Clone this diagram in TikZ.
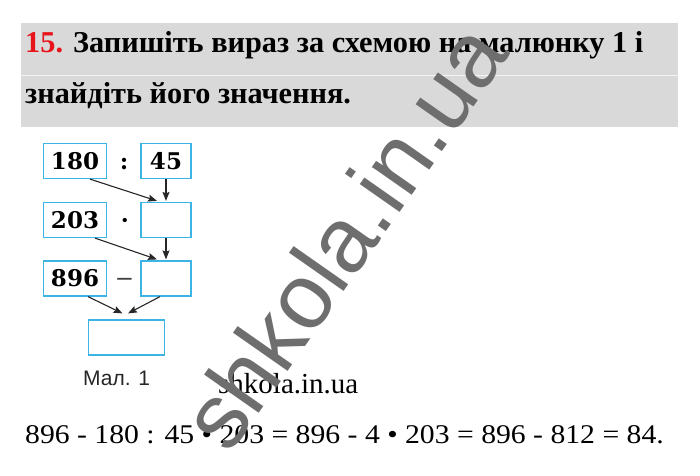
\documentclass[tikz,border=0pt]{standalone}
\usepackage{fontspec}
\setmainfont{Liberation Serif}
\newfontfamily\boxfont{DejaVu Serif}
\newfontfamily\capfont{Liberation Sans}
\newfontfamily\wideserif[FakeStretch=1.1]{Liberation Serif}
\usetikzlibrary{arrows.meta,positioning,calc}
\definecolor{boxblue}{HTML}{3CB4E6}
\definecolor{headgray}{HTML}{D9D9D9}
\definecolor{numred}{HTML}{E8141B}
\definecolor{markgray}{HTML}{6E6E6E}

\begin{document}
\begin{tikzpicture}[x=1pt, y=-1pt,
    numbox/.style={draw=boxblue, line width=1.2pt, inner sep=0pt, minimum height=35pt,
      font=\boxfont\bfseries\fontsize{23}{23}\selectfont},
    lbox/.style={numbox, minimum width=63pt},
    rbox/.style={numbox, minimum width=50pt},
    opsign/.style={inner sep=0pt, anchor=base, font=\boxfont\bfseries\fontsize{23}{23}\selectfont},
    arr/.style={-{Stealth[length=9pt,width=7pt,inset=1.5pt]}, line width=1.1pt, draw=black!85},
    txt/.style={anchor=base west, inner sep=0pt}]
  \useasboundingbox (0,0) rectangle (700,475);

  % header band
  \fill[headgray] (21,23) rectangle (678,127);
  \draw[white!70!headgray, line width=0.8pt] (21,75) -- (678,75);
  \node[txt, font=\bfseries\fontsize{30.3}{30.3}\selectfont] (head1) at (25,52)
    {\textcolor{numred}{15.} Запишіть вираз за схемою на малюнку 1 і};
  \node[txt, font=\bfseries\fontsize{30.3}{30.3}\selectfont] (head2) at (25,103)
    {знайдіть його значення.};

  % scheme
  \node[lbox] (n180) at (75,161) {180};
  \node[rbox] (n45) at (166,161) {45};
  \node[lbox] (n203) at (75,220) {203};
  \node[rbox] (r2) at (166,220) {};
  \node[lbox] (n896) at (75,278.5) {896};
  \node[rbox] (r3) at (166,278.5) {};
  \node[numbox, minimum width=76pt] (res) at (126.5,337.5) {};

  \node[opsign] (div) at (124,0 |- n180.base) {:};
  \node[opsign] (mul) at (125,0 |- n203.base) {·};
  \node[opsign, text=black!75, font=\boxfont\fontsize{23}{23}\selectfont] (sub) at (124.5,0 |- n896.base) {−};

  \draw[arr] ([xshift=15pt]n180.south) -- ([xshift=-9pt,yshift=1pt]r2.north);
  \draw[arr] (n45.south) -- ([yshift=1pt]r2.north);
  \draw[arr] ([xshift=20pt]n203.south) -- ([xshift=-9pt,yshift=1pt]r3.north);
  \draw[arr] (r2.south) -- ([yshift=1pt]r3.north);
  \draw[arr] ([xshift=13pt]n896.south) -- ([xshift=-4pt,yshift=6pt]res.north);
  \draw[arr] ([xshift=-6pt]r3.south) -- ([xshift=1.5pt,yshift=6pt]res.north);

  \node[txt, text=black!85, font=\capfont\fontsize{21}{21}\selectfont] (cap) at (83,385) {Мал. 1};

  % text below
  \node[txt, font=\fontsize{29}{29}\selectfont] (site) at (218,393) {shkola.in.ua};
  \node[txt, font=\wideserif\fontsize{27}{27}\selectfont] (answer) at (25,443)
    {896 - 180 : 45 • 203 = 896 - 4 • 203 = 896 - 812 = 84.};

  % watermark
  \node[rotate=55, text=markgray, inner sep=0pt, font=\capfont\fontsize{92}{92}\selectfont] (mark)
    at (343,236) {shkola.in.ua};
\end{tikzpicture}
\end{document}
